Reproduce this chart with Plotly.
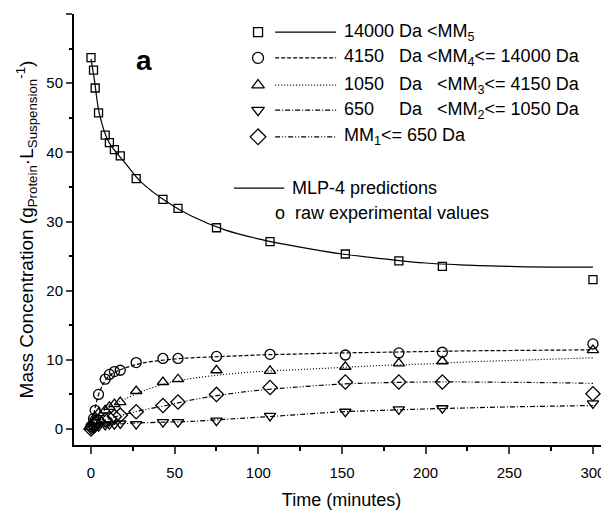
import plotly.graph_objects as go

# experimental sampling times (minutes)
t_exp = [0, 1.5, 2.5, 4.5, 8.5, 11, 14, 17.5, 27, 43, 52, 75, 107, 152, 184, 210, 300]

# raw experimental values (g/L)
mm5_exp = [53.7, 51.9, 49.3, 45.7, 42.5, 41.4, 40.4, 39.5, 36.2, 33.2, 31.9, 29.1, 27.1, 25.3, 24.3, 23.5, 21.6]
mm4_exp = [0.4, 1.5, 2.7, 5.0, 7.2, 7.9, 8.3, 8.5, 9.6, 10.2, 10.2, 10.5, 10.8, 10.7, 11.0, 11.1, 12.3]
mm3_exp = [0.3, 1.0, 1.7, 2.3, 2.7, 3.2, 3.6, 3.9, 5.5, 6.8, 7.2, 8.5, 8.4, 9.0, 9.5, 9.8, 11.4]
mm2_exp = [0.0, 0.1, 0.3, 0.4, 0.6, 0.7, 0.7, 0.8, 0.7, 1.0, 1.0, 1.2, 1.9, 2.5, 2.85, 3.0, 3.7]
mm1_exp = [0.0, 0.6, 0.8, 1.1, 1.3, 1.5, 1.8, 2.0, 2.5, 3.4, 3.9, 5.0, 6.0, 6.8, 6.8, 6.8, 5.1]

# MLP-4 predictions
t_pred = [0, 2, 5, 10, 15, 20, 30, 45, 60, 80, 100, 125, 150, 175, 200, 225, 250, 275, 300]
mm5_pred = [53.5, 50.5, 45.6, 41.8, 40.0, 38.6, 35.7, 32.9, 30.8, 28.8, 27.5, 26.3, 25.3, 24.6, 24.0, 23.7, 23.5, 23.4, 23.4]
mm4_pred = [0.5, 2.6, 5.3, 7.5, 8.3, 8.8, 9.5, 10.0, 10.3, 10.5, 10.7, 10.85, 11.0, 11.1, 11.2, 11.3, 11.35, 11.4, 11.45]
mm3_pred = [0.3, 1.2, 2.2, 3.0, 3.7, 4.3, 5.4, 6.6, 7.3, 7.9, 8.3, 8.6, 8.9, 9.2, 9.4, 9.7, 9.9, 10.1, 10.3]
mm2_pred = [0.0, 0.2, 0.4, 0.6, 0.7, 0.8, 0.9, 1.0, 1.1, 1.4, 1.7, 2.1, 2.5, 2.7, 2.9, 3.05, 3.2, 3.3, 3.4]
mm1_pred = [0.0, 0.6, 1.0, 1.4, 1.8, 2.1, 2.7, 3.4, 4.2, 5.0, 5.6, 6.1, 6.5, 6.7, 6.8, 6.8, 6.75, 6.7, 6.6]

legend_labels = [
    "14000 Da <MM<sub>5</sub>",
    "4150\u00a0\u00a0\u00a0Da <MM<sub>4</sub><= 14000 Da",
    "1050\u00a0\u00a0\u00a0Da\u00a0\u00a0\u00a0<MM<sub>3</sub><= 4150 Da",
    "650\u00a0\u00a0\u00a0\u00a0\u00a0Da\u00a0\u00a0\u00a0<MM<sub>2</sub><= 1050 Da",
    "MM<sub>1</sub><= 650 Da",
]

series = [
    (mm5_exp, mm5_pred, "square-open", "solid", 8),
    (mm4_exp, mm4_pred, "circle-open", "4px,2px", 10),
    (mm3_exp, mm3_pred, "triangle-up-open", "1px,2px", 10),
    (mm2_exp, mm2_pred, "triangle-down-open", "5px,2px,1px,2px", 10),
    (mm1_exp, mm1_pred, "diamond-open", "5px,2px,1px,2px,1px,2px", 11),
]

fig = go.Figure()

for exp, pred, sym, dash, size in series:
    fig.add_trace(go.Scatter(
        x=t_pred, y=pred, mode="lines", line_shape="spline",
        line=dict(color="black", width=1.2, dash=dash),
        showlegend=False, hoverinfo="skip"))
    fig.add_trace(go.Scatter(
        x=t_exp, y=exp, mode="markers",
        marker=dict(symbol=sym, size=size, color="black", line=dict(width=1.3, color="black")),
        showlegend=False, cliponaxis=False))

# hand made legend (symbol, line sample, text), paper units on an overlay axis
leg_y = [0.958, 0.898, 0.835, 0.777, 0.715]
for (exp, pred, sym, dash, size), yy, label in zip(series, leg_y, legend_labels):
    fig.add_trace(go.Scatter(
        x=[0.344], y=[yy], mode="markers", xaxis="x2", yaxis="y2",
        marker=dict(symbol=sym, size=size + 1, color="black", line=dict(width=1.3, color="black")),
        showlegend=False, cliponaxis=False, hoverinfo="skip"))
    fig.add_trace(go.Scatter(
        x=[0.376, 0.490], y=[yy, yy], mode="lines", xaxis="x2", yaxis="y2",
        line=dict(color="black", width=1.2, dash=dash),
        showlegend=False, cliponaxis=False, hoverinfo="skip"))
    fig.add_annotation(x=0.501, y=yy, xref="paper", yref="paper", text=label,
                       showarrow=False, xanchor="left", yanchor="middle",
                       font=dict(size=18, color="black"))

fig.add_trace(go.Scatter(
    x=[0.299, 0.393], y=[0.596, 0.596], mode="lines", xaxis="x2", yaxis="y2",
    line=dict(color="black", width=1.2), showlegend=False, hoverinfo="skip"))
fig.add_annotation(x=0.404, y=0.596, xref="paper", yref="paper", text="MLP-4 predictions",
                   showarrow=False, xanchor="left", yanchor="middle",
                   font=dict(size=18, color="black"))
fig.add_annotation(x=0.372, y=0.538, xref="paper", yref="paper",
                   text="o\u00a0\u00a0raw experimental values",
                   showarrow=False, xanchor="left", yanchor="middle",
                   font=dict(size=18, color="black"))
fig.add_annotation(x=0.112, y=0.933, xref="paper", yref="paper", text="<b>a</b>",
                   showarrow=False, font=dict(size=28, color="black"))

# the page body keeps an 8px margin, so the figure is 8px smaller than the window
fig.update_layout(
    width=601, height=502,
    margin=dict(l=66, r=0, t=6, b=65),
    paper_bgcolor="white", plot_bgcolor="white",
    font=dict(family="Liberation Sans, Arial, sans-serif", color="black"),
    xaxis=dict(
        range=[-10.16, 309.6], tickvals=[0, 50, 100, 150, 200, 250, 300],
        ticks="outside", ticklen=7, tickwidth=2, showline=True, linewidth=2, linecolor="black",
        showgrid=False, zeroline=False, tickfont=dict(size=15), ticklabelstandoff=6,
        minor=dict(tickvals=[25, 75, 125, 175, 225, 275], ticks="outside", ticklen=4, tickwidth=2, tickcolor="black"),
        title=dict(text="Time (minutes)", font=dict(size=18), standoff=14),
        automargin=False),
    yaxis=dict(
        range=[-2.31, 60], tickvals=[0, 10, 20, 30, 40, 50, 60],
        ticks="outside", ticklen=6, tickwidth=2, showline=True, linewidth=2, linecolor="black",
        showgrid=False, zeroline=False, tickfont=dict(size=15),
        minor=dict(tickvals=[5, 15, 25, 35, 45, 55], ticks="outside", ticklen=3, tickwidth=2, tickcolor="black"),
        title=dict(text="Mass Concentration (g<sub>Protein</sub>\u00b7L<sub>Suspension</sub><sup>-1</sup>)",
                   font=dict(size=19), standoff=8),
        automargin=False),
    xaxis2=dict(overlaying="x", range=[0, 1], visible=False),
    yaxis2=dict(overlaying="y", range=[0, 1], visible=False),
)

fig.write_html("out.html")
